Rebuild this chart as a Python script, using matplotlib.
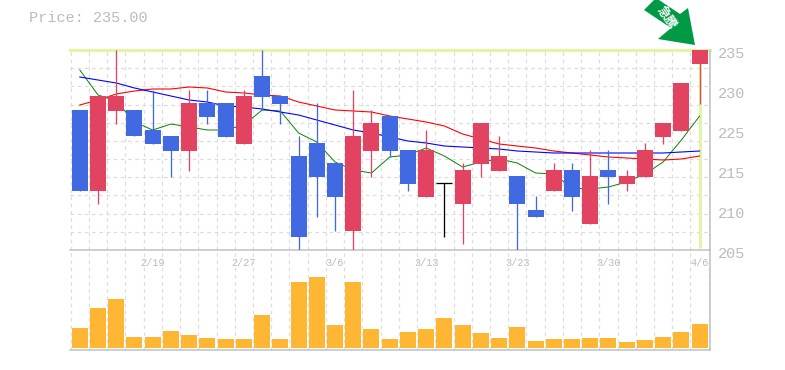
import numpy as np
import matplotlib
matplotlib.use("Agg")
import matplotlib.pyplot as plt
from matplotlib.patches import Polygon
from matplotlib.transforms import ScaledTranslation, Affine2D

# ---- data ----
body_top = [226,228.1,228.1,226,223,222.1,227.05,227.05,227.05,228.1,231.1,228.1,219.1,221.05,218.05,222.1,224.05,225.1,220,220,215.05,217,224.05,219.1,216.1,211,217,217,216.1,217,216.1,220,224.05,230.05,235]
body_bot = [213.85,213.85,225.85,222.1,220.9,219.85,219.85,224.95,221.95,220.9,227.95,226.9,206.95,215.95,212.95,207.85,219.85,219.85,214.9,212.95,215.05,211.9,217.9,216.85,211.9,209.95,213.85,212.95,208.9,215.95,214.9,215.95,221.95,222.85,232.9]
high = [226,228.1,235,226,229,222.1,229,229,227.05,229,235,228.1,222.1,227.05,218.05,229,226,225.1,220,223,215.05,218.05,224.05,222.1,216.1,213.1,218.05,218.05,220,220,217,221.05,224.05,230.05,235]
low = [213.85,211.9,223.9,222.1,220.9,215.95,216.85,223.9,221.95,220.9,226,223.9,205,209.95,207.85,205,215.95,218.95,213.85,212.95,206.95,205.9,215.95,216.85,205,209.95,213.85,210.85,208.9,211.9,213.85,215.95,220.9,222.85,226.9]
direction = list("DUUDDDUDDUDDDDDUUDDUNUUUDDUDUDUUUUU")
ma_green = [232,228.25,227.35,224.2,223,223.9,223.45,223,223,223.75,226,225.85,222.55,221.2,218.2,217,216.55,218.95,219.25,220.3,219.1,217.45,218.2,218.65,218.05,216.55,216.4,214.3,214.15,214.45,215.2,216.4,218.2,221.5,225.1]
ma_red = [226.75,227.5,228.4,228.85,229.15,229.15,229.45,229.3,228.7,228.55,228.25,228.1,227.2,226.6,226,225.85,225.7,225.1,224.65,224.2,223.6,222.4,221.65,220.9,220.6,220.3,219.85,219.55,219.25,218.95,218.8,218.65,218.5,218.65,219.1]
ma_blue = [230.95,230.5,230.05,229.3,228.7,228.1,227.5,227.2,226.6,226.45,226.15,225.7,225.25,224.5,223.75,223,222.55,221.95,221.35,221.05,220.6,220.45,220.3,220.15,219.85,219.7,219.55,219.55,219.55,219.55,219.55,219.55,219.55,219.7,219.85]
volume = [20,40,49,11,11,17,13,10,9,9,33,9,66,71,23,66,19,9,16,19,30,23,15,10,21,7,9,9,10,10,6,8,11,16,24]
date_pos = [4,9,14,19,24,29,34]
date_labels = ["2/19","2/27","3/6","3/13","3/23","3/30","4/6"]
price_ticks = [235,229,223,217,211,205]
price_labels = ["235","230","225","215","210","205"]
current_price = 235.0
banner = "急騰"
title = "Price: 235.00"

W, H = 785, 370
RED, BLUE, ORANGE = "#E24361", "#4169E1", "#FFB733"
GRID, EDGE, TXT, HL = "#DCDCDC", "#C0C0C0", "#BBBBBB", "#E2F4A6"
PX = 0.72
MONO = "Liberation Mono"

plt.rcParams["font.family"] = [MONO, "Noto Sans CJK JP", "DejaVu Sans"]
fig = plt.figure(figsize=(W/100, H/100), dpi=100, facecolor="white")

def box(x0, y0, x1, y1):
    return [x0/W, 1-y1/H, (x1-x0)/W, (y1-y0)/H]

ax = fig.add_axes(box(70, 50, 710, 250))
axv = fig.add_axes(box(70, 250, 710, 350))
n = len(volume)
x = np.arange(n)
xl = (-0.5376, 34.57)
edges = np.arange(n+1) - 0.5

for a in (ax, axv):
    a.set_xlim(*xl)
    a.patch.set_alpha(0)
    a.set_xticks(edges, minor=True)
    a.grid(True, which="minor", axis="x", color=GRID, lw=PX*1.2, ls=(0, (3, 3)), zorder=0)
    a.tick_params(which="both", length=0)
    a.set_axisbelow(True)
    for s in ("top", "left"):
        a.spines[s].set_visible(False)
    for s in ("bottom", "right"):
        a.spines[s].set_color(EDGE)
        a.spines[s].set_linewidth(PX*1.5)

ax.set_ylim(205, 235)
ax.set_yticks(np.linspace(205, 235, 12), minor=True)
ax.grid(True, which="minor", axis="y", color=GRID, lw=PX*1.2, ls=(0, (3, 3)), zorder=0)

ax.yaxis.tick_right()
ax.set_yticks(price_ticks, price_labels)
ax.tick_params(axis="y", which="major", pad=6, labelsize=11, labelcolor=TXT)
off = ScaledTranslation(0, -3/100, fig.dpi_scale_trans)
for lab in ax.get_yticklabels():
    lab.set_transform(lab.get_transform() + off)

ax.set_xticks(date_pos, date_labels)
ax.tick_params(axis="x", which="major", pad=6, labelsize=7.4, labelcolor=TXT)
axv.set_xticks([])
axv.set_yticks([])
axv.set_ylim(-2, 98)

# current-price highlight
ax.axhline(current_price, color=HL, lw=PX*3.2, zorder=1, clip_on=False)
ax.plot([x[-1], x[-1]], [205.3, 235], color=HL, lw=PX*3, zorder=1, solid_capstyle="butt")

for vals, c, w in ((ma_green, "#008000", 0.95), (ma_red, "#FF0000", 1.1), (ma_blue, "#0000FF", 1.1)):
    ax.plot(x, vals, color=c, lw=PX*w, zorder=2)

colors = [RED if d == "U" else BLUE if d == "D" else "black" for d in direction]
for i in range(n):
    ax.plot([x[i], x[i]], [low[i], high[i]], color=colors[i], lw=PX*1.3, zorder=3,
            solid_capstyle="butt")
    if direction[i] == "N":
        ax.plot([x[i]-0.44, x[i]+0.44], [body_top[i], body_top[i]], color="black",
                lw=PX*1.3, zorder=3, solid_capstyle="butt")
heights = np.array(body_top) - np.array(body_bot)
ax.bar(x, heights, bottom=body_bot, width=0.878, color=colors, lw=0, zorder=4, antialiased=False)

axv.bar(x, volume, width=0.878, color=ORANGE, lw=0, zorder=3, antialiased=False)

# title and banner arrow
fig.text(29/W, 1-18/H, title, color=TXT, fontsize=11, family=MONO, va="center", ha="left")
pts = np.array([(644, 10), (656, -2), (680, 14), (688, 8), (695, 45), (658, 39), (671, 28)], float)
trans = Affine2D().scale(1/W, -1/H).translate(0, 1) + fig.transFigure
fig.add_artist(Polygon(pts, closed=True, fc="#009944", ec="none", transform=trans))
fig.text(666/W, 1-18/H, banner, color="white", fontsize=9, fontweight="bold",
         family=["Noto Sans CJK JP", "DejaVu Sans"], rotation=-55, ha="center", va="center")

fig.savefig("out.png", dpi=100)
